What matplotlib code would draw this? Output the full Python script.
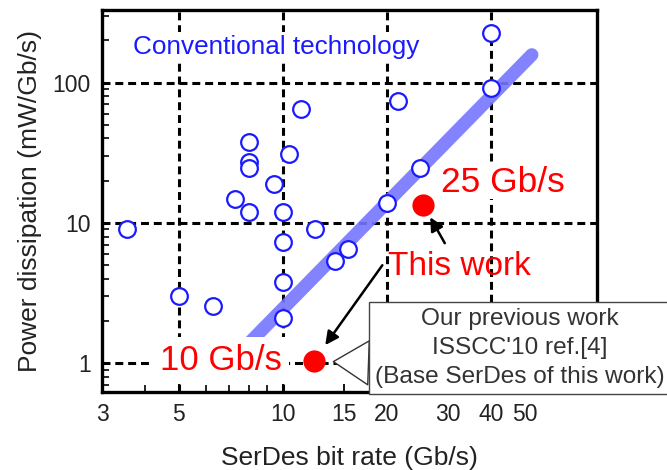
import matplotlib
matplotlib.use('Agg')
import matplotlib.pyplot as plt
from matplotlib.ticker import FixedLocator, LogLocator, NullFormatter, FormatStrFormatter

plt.rcParams['font.family'] = ['Liberation Sans', 'DejaVu Sans']

# Conventional SerDes (bit rate in Gb/s, power in mW/Gb/s)
conv_rate = [40, 40, 11.3, 21.6, 8.0, 8.0, 8.0, 10.4, 9.4, 7.25, 8.0, 10.0,
             25.0, 20.0, 3.55, 12.4, 10.0, 15.4, 14.2, 10.0, 5.0, 6.3, 10.0]
conv_power = [226, 92, 65, 73.6, 37.8, 27.1, 24.7, 31, 19.1, 14.9, 11.9, 11.9,
              24.7, 13.9, 9.0, 9.1, 7.3, 6.5, 5.35, 3.8, 3.0, 2.55, 2.1]

# trend band
band_rate = [7.0, 52.5]
band_power = [1.0, 158]

# this work / previous work
work_rate = [25.5, 12.3]
work_power = [13.4, 1.04]

grid_x = [5, 10, 20, 40]
grid_y = [1, 10, 100]
xticks = [3, 5, 10, 15, 20, 30, 40, 50]

fig = plt.figure(figsize=(6.67, 4.7), dpi=100)
ax = fig.add_axes([0.153, 0.166, 0.742, 0.813])
ax.set_xscale('log')
ax.set_yscale('log')
ax.set_xlim(3.0, 81)
ax.set_ylim(0.625, 330)

# dashed reference lines
for gx in grid_x:
    ax.axvline(gx, color='black', lw=2.2, ls=(0, (2.6, 1.6)), zorder=1)
for gy in grid_y:
    ax.axhline(gy, color='black', lw=2.2, ls=(0, (2.6, 1.6)), zorder=1)

ax.plot(band_rate, band_power, color='#7676ff', alpha=0.9, lw=9.5,
        solid_capstyle='round', zorder=2)
ax.plot(conv_rate, conv_power, 'o', ms=12, mfc='white', mec='#1a1aff',
        mew=1.6, zorder=3)
ax.plot(work_rate, work_power, 'o', ms=16, color='#ff0000', mec='none', zorder=6)

# labels
white = dict(boxstyle='square,pad=0.1', fc='white', ec='none')
ax.text(0.063, 0.903, 'Conventional technology', transform=ax.transAxes,
        fontsize=18.8, color='#1a1aff', va='center', ha='left', bbox=white, zorder=4)

ax.annotate('25 Gb/s', xy=(work_rate[0], work_power[0]), xytext=(18, 13),
            textcoords='offset pixels', fontsize=25.5, color='#ff0000',
            ha='left', va='baseline', zorder=4,
            bbox=dict(boxstyle='square,pad=0.0', fc='white', ec='none'))
ax.annotate('10 Gb/s', xy=(work_rate[1], work_power[1]), xytext=(-32, 0),
            textcoords='offset pixels', fontsize=25, color='#ff0000',
            ha='right', va='center', zorder=4,
            bbox=dict(boxstyle='square,pad=0.2', fc='white', ec='none'))

ax.text(20.2, 4.25, 'This work', fontsize=24, color='#ff0000',
        ha='left', va='baseline', zorder=4)
arrow = dict(arrowstyle='-|>', color='black', lw=1.8, mutation_scale=20,
             shrinkA=0)
ax.annotate('', xy=(work_rate[1], work_power[1]), xytext=(19.4, 5.0),
            arrowprops=dict(arrow, shrinkB=14), zorder=5)
ax.annotate('', xy=(work_rate[0], work_power[0]), xytext=(29.4, 7.18),
            arrowprops=dict(arrow, shrinkB=10), zorder=5)

ax.annotate("Our previous work\nISSCC'10 ref.[4]\n(Base SerDes of this work)",
            xy=(work_rate[1], work_power[1]), xytext=(206, 13),
            textcoords='offset pixels', fontsize=17.6, color='#333333',
            ha='center', va='center', linespacing=1.4, zorder=7,
            annotation_clip=False,
            bbox=dict(boxstyle='square,pad=0.25', fc='white', ec='#444444', lw=1),
            arrowprops=dict(arrowstyle='wedge,tail_width=1.8', fc='white',
                            ec='#333333', lw=1, relpos=(0, 0.31),
                            shrinkA=0, shrinkB=14))

# axes styling
for s in ax.spines.values():
    s.set_linewidth(2.4)
ax.xaxis.set_major_locator(FixedLocator(xticks))
ax.xaxis.set_major_formatter(FormatStrFormatter('%g'))
ax.xaxis.set_minor_locator(LogLocator(base=10, subs=range(2, 10)))
ax.xaxis.set_minor_formatter(NullFormatter())
ax.yaxis.set_major_formatter(FormatStrFormatter('%g'))
ax.tick_params(which='both', direction='in', top=False, right=False,
               labelsize=16.5, labelcolor='#222222')
ax.tick_params(which='major', length=6, width=1.3, pad=8)
ax.tick_params(which='minor', length=5, width=1.2)

ax.set_xlabel('SerDes bit rate (Gb/s)', fontsize=19, color='#222222', labelpad=14)
ax.set_ylabel('Power dissipation (mW/Gb/s)', fontsize=19, color='#222222', labelpad=8)

fig.savefig('out.png', dpi=100)
